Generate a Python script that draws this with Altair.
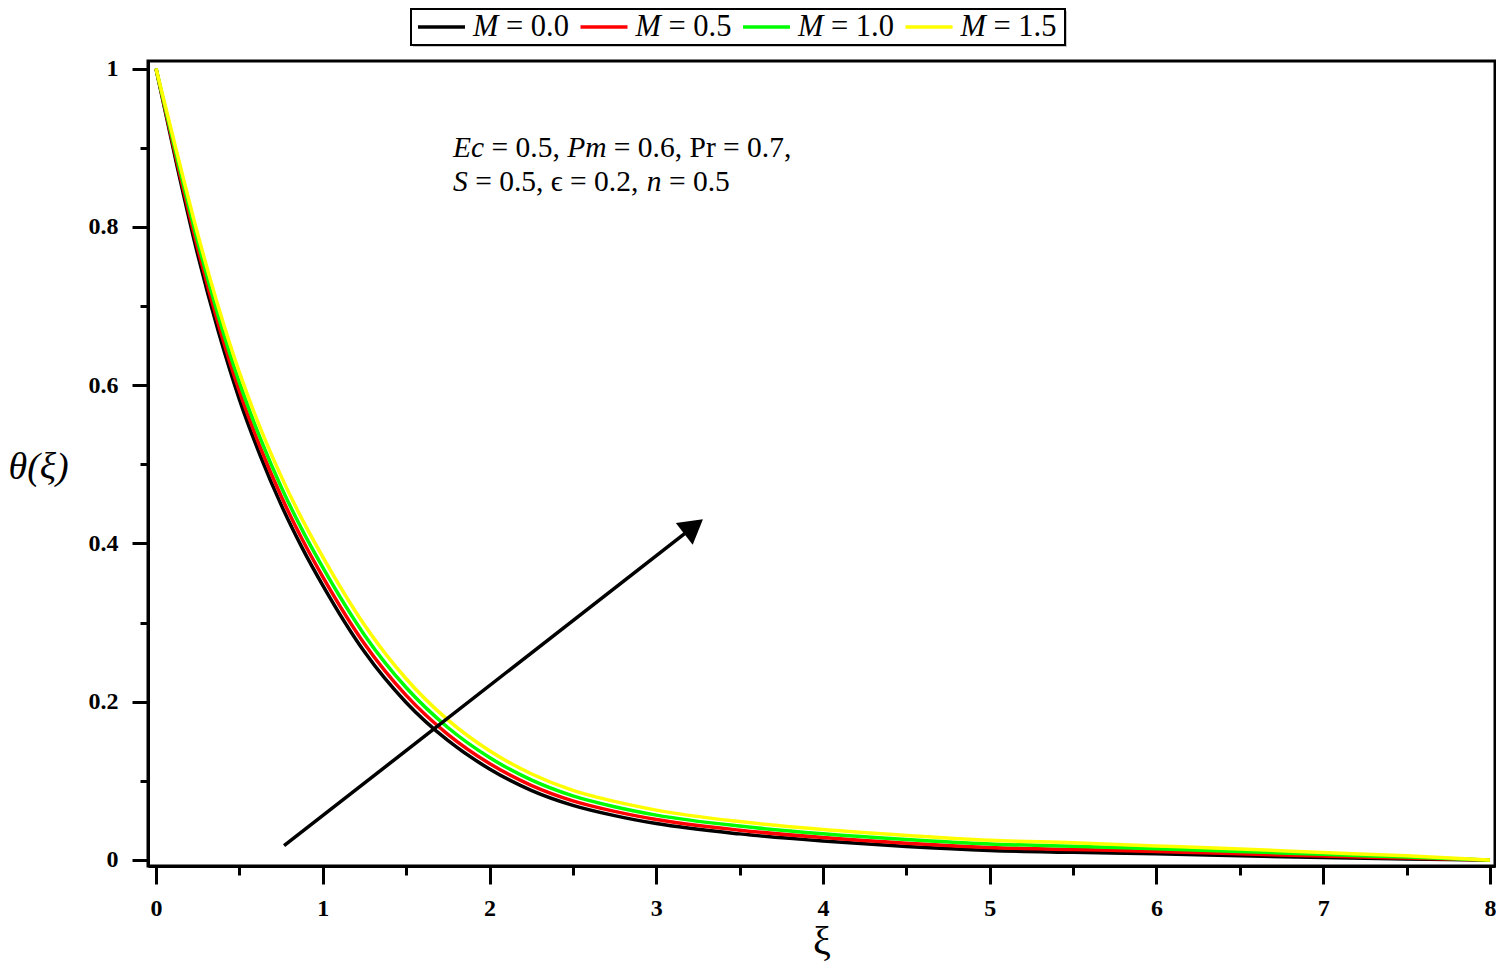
import altair as alt
import pandas as pd

# ---- data ----
xi = [0, 0.125, 0.25, 0.375, 0.5, 0.625, 0.75, 0.875, 1.0, 1.25, 1.5, 1.75,
      2.0, 2.25, 2.5, 2.75, 3.0, 3.5, 4.0, 4.5, 5.0, 5.5, 6.0, 6.5, 7.0, 7.5, 8.0]
theta_M00 = [1.0, 0.878, 0.765, 0.667, 0.582, 0.511, 0.449, 0.395, 0.347, 0.263,
             0.199, 0.151, 0.115, 0.088, 0.069, 0.056, 0.046, 0.033, 0.024, 0.017,
             0.012, 0.0097, 0.0078, 0.0053, 0.0030, 0.0012, 0.0]
theta_M05 = [1.0, 0.8828, 0.7728, 0.6763, 0.5922, 0.5215, 0.4598, 0.4058, 0.3578,
             0.2732, 0.208, 0.1588, 0.1219, 0.0943, 0.0747, 0.0614, 0.0511, 0.0377,
             0.0284, 0.0212, 0.0159, 0.0133, 0.0108, 0.0079, 0.0050, 0.0024, 0.0]
theta_M10 = [1.0, 0.8881, 0.7814, 0.6865, 0.6034, 0.5331, 0.4717, 0.4177, 0.3697,
             0.2844, 0.2179, 0.1674, 0.1295, 0.1012, 0.0810, 0.0673, 0.0567, 0.0428,
             0.0331, 0.0258, 0.0202, 0.0173, 0.0141, 0.0107, 0.0071, 0.0037, 0.0]
theta_M15 = [1.0, 0.894, 0.791, 0.698, 0.616, 0.546, 0.485, 0.431, 0.383, 0.297,
             0.229, 0.177, 0.138, 0.109, 0.088, 0.074, 0.063, 0.0485, 0.0385, 0.031,
             0.025, 0.0217, 0.0178, 0.0138, 0.0095, 0.0052, 0.0]

M_values = ["0.0", "0.5", "1.0", "1.5"]
series_colors = ["#000000", "#ff0000", "#00ff00", "#ffff00"]
series_values = [theta_M00, theta_M05, theta_M10, theta_M15]

x_ticks = [i * 0.5 for i in range(17)]
y_ticks = [round(i * 0.1, 1) for i in range(11)]

# annotation: (text, italic) pieces, one list per line
note_line1 = [("Ec", True), ("= 0.5,", False), ("Pm", True), ("= 0.6, Pr = 0.7,", False)]
note_line2 = [("S", True), ("= 0.5, \u03f5 = 0.2,", False), ("n", True), ("= 0.5", False)]

arrow_x = [0.768, 3.224]
arrow_y = [0.018, 0.4213]

# ---- layout helpers (approximate Times/Liberation Serif advance widths) ----
SERIF = "Liberation Serif"
W_UP = {" ": 250, "=": 564, ".": 250, ",": 250, "P": 556, "r": 333, "\u03f5": 440}
W_IT = {"E": 611, "c": 444, "P": 611, "m": 722, "S": 500, "n": 500, "M": 833}


def text_w(s, italic, fs):
    table = W_IT if italic else W_UP
    return sum(table.get(ch, 500) for ch in s) * fs / 1000.0


XPX = 166.75            # px per xi unit
X0PX = 8.0              # px from plot left edge to xi = 0
YPX = 791.5             # px per theta unit
Y0PX = 799.0            # px from plot top to theta = 0

NOTE_FS = 29.5
rows_note = []
for line, top_px in ((note_line1, 87.0), (note_line2, 121.0)):
    cur = 305.0  # px from plot left
    for txt, it in line:
        rows_note.append({"txt": txt, "it": it,
                          "x": (cur - X0PX) / XPX, "y": (Y0PX - top_px) / YPX})
        cur += text_w(txt, it, NOTE_FS) + text_w(" ", False, NOTE_FS)
notes = pd.DataFrame(rows_note)

# legend (drawn above the plot, pixel units relative to plot origin)
LEG_FS = 30.5
leg_rows, leg_txt = [], []
for i, (v, c) in enumerate(zip(M_values, series_colors)):
    x0 = 270 + 162.5 * i
    leg_rows.append({"x1": x0, "x2": x0 + 47, "y": -34, "c": c})
    leg_txt.append({"txt": "M", "it": True, "x": x0 + 55, "y": -34})
    leg_txt.append({"txt": "= " + v, "it": False,
                    "x": x0 + 55 + text_w("M", True, LEG_FS) + text_w(" ", False, LEG_FS),
                    "y": -34})
leg_lines = pd.DataFrame(leg_rows)
leg_labels = pd.DataFrame(leg_txt)
leg_box = pd.DataFrame({"x1": [263], "x2": [917], "y1": [-52], "y2": [-16]})
leg_shadow = pd.DataFrame({"x1": [265], "x2": [919], "y1": [-50], "y2": [-14]})

# ---- tables ----
rows = []
for v, vals in zip(M_values, series_values):
    for x, y in zip(xi, vals):
        rows.append({"xi": x, "theta": y, "M": "M = " + v})
df = pd.DataFrame(rows)
arrow = pd.DataFrame({"x": arrow_x, "y": arrow_y})
head = pd.DataFrame({"x": [arrow_x[1]], "y": [arrow_y[1]]})

xscale = alt.Scale(domain=[-0.048, 8.030], nice=False, zero=False)
yscale = alt.Scale(domain=[-0.0076, 1.0095], nice=False, zero=False)

xaxis = alt.Axis(
    values=x_ticks,
    labelExpr="datum.value % 1 === 0 ? toString(datum.value) : ''",
    tickSize={"condition": {"test": "datum.value % 1 === 0", "value": 18}, "value": 9},
    grid=False, labelFlush=False, labelOverlap=False,
    labelFont=SERIF, labelFontWeight="bold", labelFontSize=24, labelPadding=12,
    title="\u03be", titleFont=SERIF, titleFontSize=40, titleFontWeight="normal",
    titleBaseline="alphabetic", titleY=87,
)
yaxis = alt.Axis(
    values=y_ticks,
    labelExpr="round(datum.value*10) % 2 === 0 ? toString(round(datum.value*10)/10) : ''",
    tickSize={"condition": {"test": "round(datum.value*10) % 2 === 0", "value": 16}, "value": 8},
    grid=False, labelFlush=False, labelOverlap=False,
    labelFont=SERIF, labelFontWeight="bold", labelFontSize=24, labelPadding=14,
    title="\u03b8(\u03be)", titleFont=SERIF, titleFontSize=38, titleFontWeight="normal",
    titleFontStyle="italic", titleAngle=0, titleAlign="left", titleBaseline="middle",
    titleX=-140, titleY=406,
)

lines = alt.Chart(df).mark_line(strokeWidth=3.5, interpolate="monotone").encode(
    x=alt.X("xi:Q", scale=xscale, axis=xaxis),
    y=alt.Y("theta:Q", scale=yscale, axis=yaxis),
    color=alt.Color("M:N", sort=["M = " + v for v in M_values],
                    scale=alt.Scale(domain=["M = " + v for v in M_values], range=series_colors),
                    legend=None),
)

arrow_line = alt.Chart(arrow).mark_line(color="black", strokeWidth=3.5).encode(
    x=alt.X("x:Q", scale=xscale), y=alt.Y("y:Q", scale=yscale)
)
arrow_head = alt.Chart(head).mark_point(
    shape="triangle-up", size=750, filled=True, color="black", opacity=1, angle=52
).encode(x=alt.X("x:Q", scale=xscale), y=alt.Y("y:Q", scale=yscale))

note_base = alt.Chart(notes).encode(
    x=alt.X("x:Q", scale=xscale), y=alt.Y("y:Q", scale=yscale), text="txt:N"
)
note_it = note_base.transform_filter("datum.it").mark_text(
    align="left", baseline="middle", font=SERIF, fontSize=NOTE_FS, fontStyle="italic",
    color="black")
note_up = note_base.transform_filter("!datum.it").mark_text(
    align="left", baseline="middle", font=SERIF, fontSize=NOTE_FS, color="black")

shadow = alt.Chart(leg_shadow).mark_rect(fill="#c8c8c8").encode(
    x=alt.X("x1:Q", scale=None), x2="x2:Q", y=alt.Y("y1:Q", scale=None), y2="y2:Q"
)
box = alt.Chart(leg_box).mark_rect(fill="white", stroke="black", strokeWidth=2).encode(
    x=alt.X("x1:Q", scale=None), x2="x2:Q", y=alt.Y("y1:Q", scale=None), y2="y2:Q"
)
leg_l = alt.Chart(leg_lines).mark_rule(strokeWidth=3.5).encode(
    x=alt.X("x1:Q", scale=None), x2="x2:Q", y=alt.Y("y:Q", scale=None),
    color=alt.Color("c:N", scale=None)
)
leg_base = alt.Chart(leg_labels).encode(
    x=alt.X("x:Q", scale=None), y=alt.Y("y:Q", scale=None), text="txt:N"
)
leg_it = leg_base.transform_filter("datum.it").mark_text(
    align="left", baseline="middle", font=SERIF, fontSize=LEG_FS, fontStyle="italic",
    color="black")
leg_up = leg_base.transform_filter("!datum.it").mark_text(
    align="left", baseline="middle", font=SERIF, fontSize=LEG_FS, color="black")

chart = alt.layer(
    lines, arrow_line, arrow_head, note_it, note_up, shadow, box, leg_l, leg_it, leg_up
).properties(
    width=1347, height=805,
    padding={"left": 140, "top": 53, "right": 1, "bottom": 97},
    autosize="none",
).configure_view(stroke="black", strokeWidth=3).configure_axis(
    domainColor="black", domainWidth=3, tickColor="black", tickWidth=3,
    labelColor="black", titleColor="black",
)

chart.save("out.html", embed_options={"renderer": "svg", "actions": False})
